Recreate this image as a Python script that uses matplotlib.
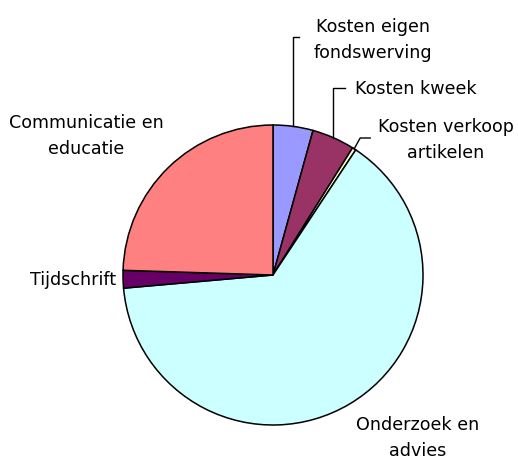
import numpy as np
import matplotlib
matplotlib.use("Agg")
import matplotlib.pyplot as plt

# cost shares (percent), clockwise from the top
labels = ["Kosten eigen\nfondswerving", "Kosten kweek", "Kosten verkoop\nartikelen",
          "Onderzoek en\nadvies", "Tijdschrift", "Communicatie en\neducatie"]
values = [4.3, 4.6, 0.4, 64.3, 1.9, 24.5]
colors = ["#9999FF", "#993366", "#FFFFCC", "#CCFFFF", "#660066", "#FF8080"]

W, H = 518, 461
fig = plt.figure(figsize=(W / 100, H / 100), dpi=100)
ax = fig.add_axes([0, 0, 1, 1])

cx, cy, r = 273, H - 275, 150
wedges, _ = ax.pie(values, colors=colors, startangle=90, counterclock=False,
                   center=(cx, cy), radius=r,
                   wedgeprops=dict(edgecolor="black", linewidth=1.1))
ax.set_xlim(0, W)
ax.set_ylim(0, H)
ax.set_aspect("equal")
ax.axis("off")

fs = 12.6
font = dict(fontsize=fs, family="DejaVu Sans", color="black", linespacing=1.55)


def edge_point(w):
    a = np.deg2rad((w.theta1 + w.theta2) / 2)
    return cx + r * np.cos(a), cy + r * np.sin(a)


# leader lines for the three small slices at the top
x0, y0 = edge_point(wedges[0])
ax.plot([x0, x0, x0 + 6], [y0, H - 37, H - 37], color="black", lw=1)
x1, y1 = edge_point(wedges[1])
ax.plot([x1, x1, x1 + 12], [y1, H - 88, H - 88], color="black", lw=1)
x2, y2 = edge_point(wedges[2])
ax.plot([x2, x2 + 6, x2 + 16], [y2, H - 138, H - 138], color="black", lw=1)

ax.text(373, H - 40, labels[0], ha="center", va="center", **font)
ax.text(355, H - 89, labels[1], ha="left", va="center", **font)
ax.text(446, H - 140, labels[2], ha="center", va="center", **font)
ax.text(418, H - 438, labels[3], ha="center", va="center", **font)
ax.text(116, H - 280, labels[4], ha="right", va="center", **font)
ax.text(86, H - 136, labels[5], ha="center", va="center", **font)

fig.savefig("out.png", dpi=100)
